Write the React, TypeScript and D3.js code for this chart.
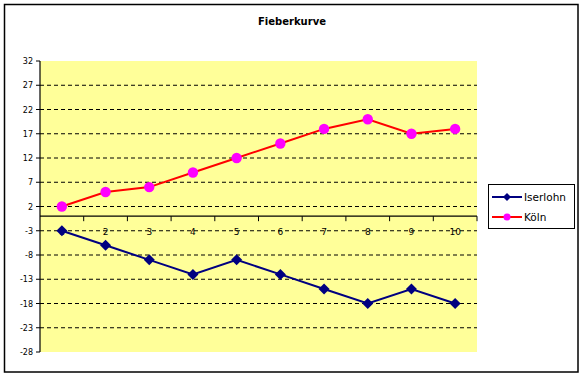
import React from "react";
import * as d3 from "d3";

const categories = ["1", "2", "3", "4", "5", "6", "7", "8", "9", "10"];
const iserlohn = [-3, -6, -9, -12, -9, -12, -15, -18, -15, -18];
const koeln = [2, 5, 6, 9, 12, 15, 18, 20, 17, 18];
const yTicks = [32, 27, 22, 17, 12, 7, 2, -3, -8, -13, -18, -23, -28];
const seriesNames = ["Iserlohn", "Köln"];
const title = "Fieberkurve";

const W = 584;
const H = 377;
const plot = { left: 40, top: 61, right: 477, bottom: 352 };

export default function App() {
  const x = d3.scaleBand<string>().domain(categories).range([plot.left, plot.right]).padding(0);
  const y = d3.scaleLinear().domain([-28, 32]).range([plot.bottom, plot.top]);
  const cx = (c: string) => (x(c) as number) + x.bandwidth() / 2;
  const line = d3
    .line<number>()
    .x((_, i) => cx(categories[i]))
    .y((d) => y(d));
  const diamond = (px: number, py: number, r: number) =>
    `M${px},${py - r}L${px + r},${py}L${px},${py + r}L${px - r},${py}Z`;
  const y0 = y(0);
  const font = "DejaVu Sans, Verdana, sans-serif";

  return (
    <svg width={W} height={H} style={{ position: "absolute", left: 0, top: 0 }}>
      <rect x={0} y={0} width={W} height={H} fill="#fff" />
      <rect x={4.5} y={4.5} width={573.5} height={367.5} fill="#fff" stroke="#000" strokeWidth={1.5} />
      <text x={292} y={25} textAnchor="middle" fontFamily={font} fontWeight="bold" fontSize={10} fill="#000">
        {title}
      </text>
      <rect x={plot.left} y={plot.top} width={plot.right - plot.left} height={plot.bottom - plot.top} fill="#FFFF99" />
      {yTicks.map((t) => (
        <g key={t}>
          {t !== 32 && t !== -28 && (
            <line x1={plot.left} x2={plot.right} y1={y(t)} y2={y(t)} stroke="#000" strokeWidth={1} strokeDasharray="4,3" />
          )}
          <line x1={plot.left - 4} x2={plot.left} y1={y(t)} y2={y(t)} stroke="#000" strokeWidth={1} />
          <text x={plot.left - 7} y={y(t) + 3} textAnchor="end" fontFamily={font} fontSize={8} fill="#000">
            {t}
          </text>
        </g>
      ))}
      <line x1={plot.left} x2={plot.left} y1={plot.top} y2={plot.bottom} stroke="#000" strokeWidth={1.2} />
      <line x1={plot.left} x2={plot.right} y1={y0} y2={y0} stroke="#000" strokeWidth={1.2} />
      {categories.map((c) => (
        <g key={c}>
          <line x1={(x(c) as number) + x.bandwidth()} x2={(x(c) as number) + x.bandwidth()} y1={y0} y2={y0 + 5} stroke="#000" strokeWidth={1} />
          <text x={cx(c)} y={y0 + 19} textAnchor="middle" fontFamily={font} fontSize={9} fill="#000">
            {c}
          </text>
        </g>
      ))}
      <path d={line(koeln) || ""} fill="none" stroke="#FF0000" strokeWidth={2} />
      {koeln.map((v, i) => (
        <circle key={i} cx={cx(categories[i])} cy={y(v)} r={5.2} fill="#FF00FF" />
      ))}
      <path d={line(iserlohn) || ""} fill="none" stroke="#000080" strokeWidth={2} />
      {iserlohn.map((v, i) => (
        <path key={i} d={diamond(cx(categories[i]), y(v), 5.5)} fill="#000080" />
      ))}
      <g>
        <rect x={488.5} y={184.5} width={86} height={44} fill="#fff" stroke="#000" strokeWidth={1} />
        <line x1={492} x2={522} y1={197} y2={197} stroke="#000080" strokeWidth={2} />
        <path d={diamond(507, 197, 4)} fill="#000080" />
        <text x={524} y={201} fontFamily={font} fontSize={10.5} fill="#000">
          {seriesNames[0]}
        </text>
        <line x1={492} x2={522} y1={217} y2={217} stroke="#FF0000" strokeWidth={2} />
        <circle cx={507} cy={217} r={3.5} fill="#FF00FF" />
        <text x={524} y={221} fontFamily={font} fontSize={10.5} fill="#000">
          {seriesNames[1]}
        </text>
      </g>
    </svg>
  );
}
